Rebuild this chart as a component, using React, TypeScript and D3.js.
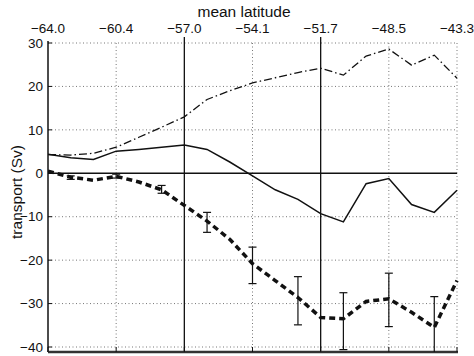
import React from "react";
import * as d3 from "d3";

const latLabels = ["−64.0", "−60.4", "−57.0", "−54.1", "−51.7", "−48.5", "−43.3"];
const latTickIdx = [0, 3, 6, 9, 12, 15, 18];
const solidVerticalIdx = [6, 12];
const yTicks = [30, 20, 10, 0, -10, -20, -30, -40];

const solidSeries = [4.4, 3.6, 3.2, 5.1, 5.5, 6.0, 6.5, 5.5, 2.6, -0.6, -3.8, -6.0, -9.3, -11.2, -2.4, -1.2, -7.2, -9.0, -3.9];
const dashDotSeries = [4.3, 4.2, 4.6, 6.0, 8.3, 10.6, 13.0, 17.0, 19.0, 20.8, 22.0, 23.2, 24.2, 22.6, 27.0, 28.6, 24.9, 27.2, 21.9];
const dashedSeries = [0.5, -0.9, -1.6, -0.7, -2.0, -3.8, -7.4, -11.0, -15.2, -20.8, -24.7, -28.6, -33.2, -33.5, -29.5, -28.9, -32.0, -35.5, -24.7];
const errIdx = [1, 3, 5, 7, 9, 11, 13, 15, 17];
const errHigh = [-0.6, -0.2, -2.8, -9.0, -17.0, -23.8, -27.5, -23.0, -28.4];
const errLow = [-1.4, -1.1, -4.6, -13.6, -25.4, -34.9, -40.6, -35.3, -44.0];

export default function App() {
  const W = 474, H = 356;
  const left = 48, right = 457, top = 43, bottom = 352;
  const x = d3.scaleLinear().domain([0, 18]).range([left, right]);
  const y = d3.scaleLinear().domain([-40, 30]).range([347, top]);
  const line = d3.line<number>().x((_, i) => x(i)).y((d) => y(d));
  const font = "'Liberation Sans', Arial, Helvetica, sans-serif";
  const grid = "#777";
  return (
    <svg width={W} height={H} style={{ position: "absolute", left: 0, top: 0, background: "#fff" }}>
      <defs>
        <clipPath id="plot">
          <rect x={left} y={top - 5} width={right - left + 2} height={bottom - top + 5} />
        </clipPath>
      </defs>
      {yTicks.filter((t) => t !== 0).map((t) => (
        <line key={"h" + t} x1={left} x2={right} y1={y(t)} y2={y(t)} stroke={grid} strokeWidth={1} strokeDasharray="1,2.5" />
      ))}
      {latTickIdx.filter((i) => i !== 0 && !solidVerticalIdx.includes(i)).map((i) => (
        <line key={"v" + i} x1={x(i)} x2={x(i)} y1={top} y2={bottom} stroke={grid} strokeWidth={1} strokeDasharray="1,2.5" />
      ))}
      {solidVerticalIdx.map((i) => (
        <line key={"sv" + i} x1={x(i)} x2={x(i)} y1={37} y2={bottom} stroke="#111" strokeWidth={1.3} />
      ))}
      <line x1={left} x2={right} y1={y(0)} y2={y(0)} stroke="#111" strokeWidth={1.5} />
      <line x1={left} x2={left} y1={top - 2} y2={bottom} stroke="#111" strokeWidth={1.5} />
      <line x1={left} x2={right + 1} y1={bottom} y2={bottom} stroke="#333" strokeWidth={2.5} />
      {yTicks.map((t) => (
        <g key={"yt" + t}>
          <line x1={left} x2={left + 4} y1={y(t)} y2={y(t)} stroke="#111" strokeWidth={1} />
          <text x={left - 5} y={y(t)} dy="0.35em" textAnchor="end" fontSize={13.5} fontFamily={font} fill="#111">
            {t < 0 ? "−" + Math.abs(t) : String(t)}
          </text>
        </g>
      ))}
      {latTickIdx.map((i, k) => (
        <g key={"xt" + i}>
          <line x1={x(i)} x2={x(i)} y1={bottom} y2={bottom - 5} stroke="#111" strokeWidth={1} />
          <text x={x(i)} y={33} textAnchor="middle" fontSize={13.5} fontFamily={font} fill="#111">
            {latLabels[k]}
          </text>
        </g>
      ))}
      <text x={244} y={17} textAnchor="middle" fontSize={15.5} fontFamily={font} fill="#111">mean latitude</text>
      <text transform="translate(22,192) rotate(-90)" textAnchor="middle" fontSize={15.5} fontFamily={font} fill="#111">transport (Sv)</text>
      <g clipPath="url(#plot)">
        <path d={line(solidSeries) || ""} fill="none" stroke="#111" strokeWidth={1.5} />
        <path d={line(dashDotSeries) || ""} fill="none" stroke="#111" strokeWidth={1.3} strokeDasharray="8,3,1.5,3" />
        <path d={line(dashedSeries) || ""} fill="none" stroke="#111" strokeWidth={3.5} strokeDasharray="6,4" />
        {errIdx.map((i, k) => (
          <g key={"e" + i} stroke="#111" strokeWidth={1.2}>
            <line x1={x(i)} x2={x(i)} y1={y(errHigh[k])} y2={y(errLow[k])} />
            <line x1={x(i) - 4} x2={x(i) + 4} y1={y(errHigh[k])} y2={y(errHigh[k])} />
            <line x1={x(i) - 4} x2={x(i) + 4} y1={y(errLow[k])} y2={y(errLow[k])} />
          </g>
        ))}
      </g>
    </svg>
  );
}
